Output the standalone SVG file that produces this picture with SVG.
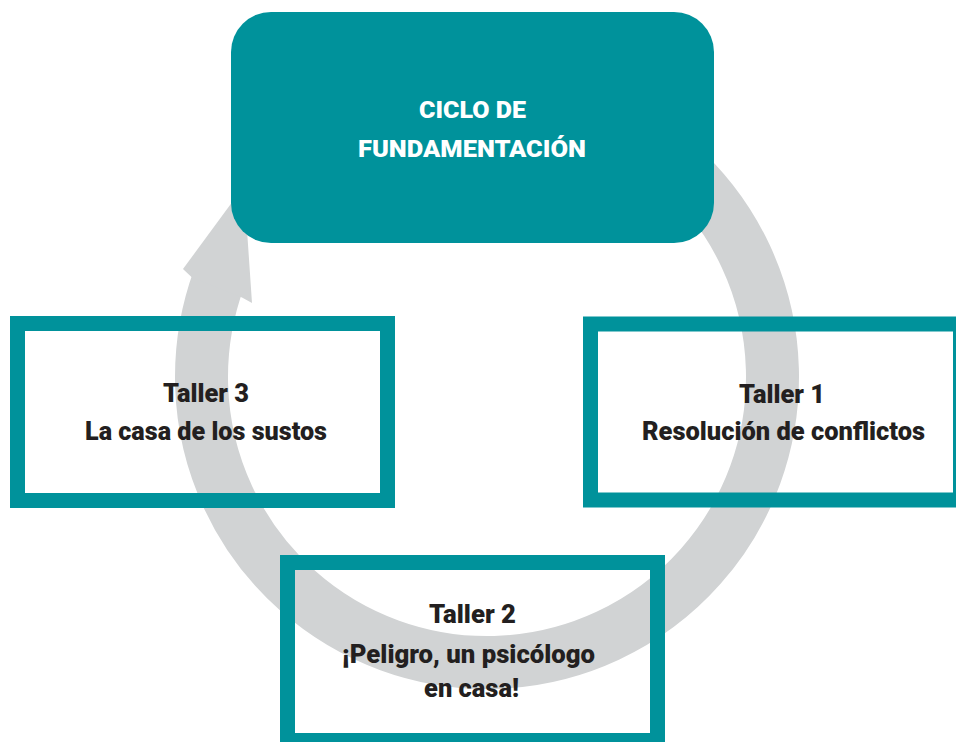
<svg xmlns="http://www.w3.org/2000/svg" width="956" height="742" viewBox="0 0 956 742">
  <style>
    .ring { fill: none; stroke: #d1d3d4; stroke-width: 53; }
    .head { fill: #d1d3d4; }
    .box { fill: none; stroke: #00929b; stroke-width: 15; }
    .main { fill: #00929b; }
    .t { font-family: Roboto, "Liberation Sans", sans-serif; font-weight: 900; font-size: 25px; fill: #231f20; text-anchor: middle; }
    .tw { font-family: Roboto, "Liberation Sans", sans-serif; font-weight: 900; font-size: 23.5px; fill: #ffffff; text-anchor: middle; }
  </style>
  <rect x="0" y="0" width="956" height="742" fill="#ffffff"/>
  <g id="connectors">
    <path class="ring" d="M 584.6 108.7 A 285.5 285.5 0 1 1 218.7 279.4"/>
    <polygon class="head" points="183,269 244,186 252,303 242,297.5 192,277.5"/>
  </g>
  <g id="ciclo">
    <rect class="main" x="231" y="12" width="483" height="231" rx="40" ry="40"/>
    <text class="tw" x="472.5" y="118" textLength="107" lengthAdjust="spacingAndGlyphs">CICLO DE</text>
    <text class="tw" x="472" y="157" textLength="228" lengthAdjust="spacingAndGlyphs">FUNDAMENTACIÓN</text>
  </g>
  <g id="taller3">
    <rect class="box" x="17.5" y="323.5" width="370" height="177"/>
    <text class="t" x="206" y="402" textLength="86" lengthAdjust="spacingAndGlyphs">Taller 3</text>
    <text class="t" x="206" y="440" textLength="242" lengthAdjust="spacingAndGlyphs">La casa de los sustos</text>
  </g>
  <g id="taller1">
    <rect class="box" x="590.5" y="324" width="370" height="176"/>
    <text class="t" x="782" y="403" textLength="86" lengthAdjust="spacingAndGlyphs">Taller 1</text>
    <text class="t" x="783.5" y="440" textLength="283" lengthAdjust="spacingAndGlyphs">Resolución de conflictos</text>
  </g>
  <g id="taller2">
    <rect class="box" x="287.5" y="562.5" width="370" height="178"/>
    <text class="t" x="472.5" y="623" textLength="87" lengthAdjust="spacingAndGlyphs">Taller 2</text>
    <text class="t" x="468.5" y="663" textLength="253" lengthAdjust="spacingAndGlyphs">¡Peligro, un psicólogo</text>
    <text class="t" x="471.5" y="697" textLength="95" lengthAdjust="spacingAndGlyphs">en casa!</text>
  </g>
</svg>
